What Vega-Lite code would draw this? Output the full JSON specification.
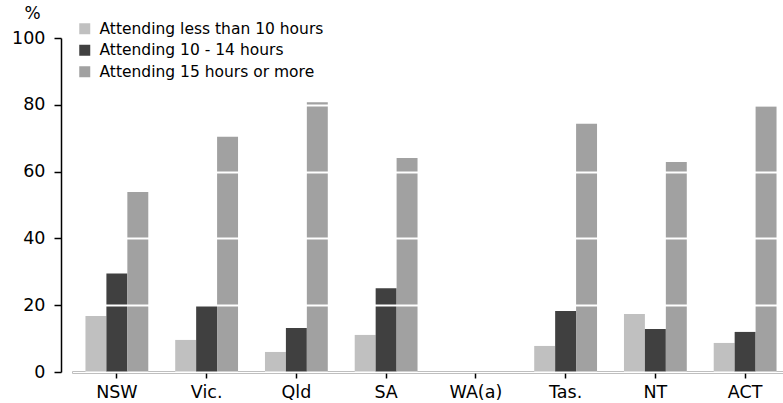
{
  "$schema": "https://vega.github.io/schema/vega-lite/v6.json",
  "autosize": {"type": "none"},
  "width": 711,
  "height": 334,
  "padding": {"left": 72, "top": 38, "right": 0, "bottom": 31},
  "background": "white",
  "config": {
    "view": {"stroke": null},
    "font": "DejaVu Sans"
  },
  "data": {
    "values": [
      {"state": "NSW", "series": "Attending less than 10 hours", "value": 16.8},
      {"state": "NSW", "series": "Attending 10 - 14 hours", "value": 29.5},
      {"state": "NSW", "series": "Attending 15 hours or more", "value": 53.9},
      {"state": "Vic.", "series": "Attending less than 10 hours", "value": 9.6},
      {"state": "Vic.", "series": "Attending 10 - 14 hours", "value": 19.9},
      {"state": "Vic.", "series": "Attending 15 hours or more", "value": 70.4},
      {"state": "Qld", "series": "Attending less than 10 hours", "value": 6.0},
      {"state": "Qld", "series": "Attending 10 - 14 hours", "value": 13.2},
      {"state": "Qld", "series": "Attending 15 hours or more", "value": 80.8},
      {"state": "SA", "series": "Attending less than 10 hours", "value": 11.1},
      {"state": "SA", "series": "Attending 10 - 14 hours", "value": 25.1},
      {"state": "SA", "series": "Attending 15 hours or more", "value": 64.1},
      {"state": "WA(a)", "series": "Attending less than 10 hours", "value": null},
      {"state": "WA(a)", "series": "Attending 10 - 14 hours", "value": null},
      {"state": "WA(a)", "series": "Attending 15 hours or more", "value": null},
      {"state": "Tas.", "series": "Attending less than 10 hours", "value": 7.8},
      {"state": "Tas.", "series": "Attending 10 - 14 hours", "value": 18.3},
      {"state": "Tas.", "series": "Attending 15 hours or more", "value": 74.3},
      {"state": "NT", "series": "Attending less than 10 hours", "value": 17.4},
      {"state": "NT", "series": "Attending 10 - 14 hours", "value": 12.9},
      {"state": "NT", "series": "Attending 15 hours or more", "value": 62.9},
      {"state": "ACT", "series": "Attending less than 10 hours", "value": 8.7},
      {"state": "ACT", "series": "Attending 10 - 14 hours", "value": 12.0},
      {"state": "ACT", "series": "Attending 15 hours or more", "value": 79.6}
    ]
  },
  "mark": {"type": "bar"},
  "encoding": {
    "x": {
      "field": "state",
      "type": "nominal",
      "sort": ["NSW", "Vic.", "Qld", "SA", "WA(a)", "Tas.", "NT", "ACT"],
      "scale": {"range": [0, 718], "paddingInner": 0.3, "paddingOuter": 0.15},
      "axis": {
        "title": null,
        "labelAngle": 0,
        "labelFontSize": 17.5,
        "labelColor": "black",
        "labelPadding": 5,
        "tickSize": 6,
        "tickColor": "black",
        "tickWidth": 1.5,
        "domainColor": "black",
        "domainWidth": 2,
        "grid": false
      }
    },
    "xOffset": {
      "field": "series",
      "type": "nominal",
      "sort": ["Attending less than 10 hours", "Attending 10 - 14 hours", "Attending 15 hours or more"]
    },
    "y": {
      "field": "value",
      "type": "quantitative",
      "scale": {"domain": [0, 100], "nice": false},
      "axis": {
        "title": "%",
        "titleAngle": 0,
        "titleFontSize": 17,
        "titleFontWeight": "normal",
        "titleColor": "black",
        "titleAlign": "center",
        "titleBaseline": "alphabetic",
        "titleX": -29,
        "titleY": -20,
        "values": [0, 20, 40, 60, 80, 100],
        "offset": 11,
        "labelFontSize": 17.5,
        "labelColor": "black",
        "labelPadding": 9,
        "tickSize": 7,
        "tickColor": "black",
        "tickWidth": 1.5,
        "domainColor": "black",
        "domainWidth": 1.5,
        "grid": true,
        "gridColor": "white",
        "gridWidth": 2,
        "zindex": 1
      }
    },
    "color": {
      "field": "series",
      "type": "nominal",
      "sort": ["Attending less than 10 hours", "Attending 10 - 14 hours", "Attending 15 hours or more"],
      "scale": {
        "domain": ["Attending less than 10 hours", "Attending 10 - 14 hours", "Attending 15 hours or more"],
        "range": ["#c0c0c0", "#404040", "#a1a1a1"]
      },
      "legend": {
        "title": null,
        "orient": "none",
        "legendX": 5,
        "legendY": -17,
        "padding": 0,
        "symbolType": "square",
        "symbolSize": 121,
        "symbolStrokeWidth": 0,
        "labelFontSize": 15.5,
        "labelColor": "black",
        "labelOffset": 7,
        "labelLimit": 400,
        "rowPadding": 4.5
      }
    }
  }
}
